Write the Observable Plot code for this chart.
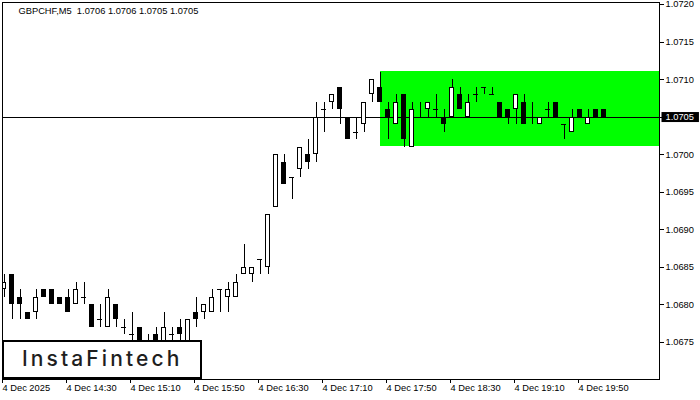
<!DOCTYPE html>
<html><head><meta charset="utf-8">
<script src="https://cdn.jsdelivr.net/npm/d3@7"></script>
<script src="https://cdn.jsdelivr.net/npm/@observablehq/plot@0.6"></script>
<style>
html,body{margin:0;padding:0;background:#fff;}
#chart{position:relative;width:700px;height:400px;overflow:hidden;}
#chart svg text{white-space:pre;}
#logo{position:absolute;left:2px;top:340px;width:200px;height:39px;box-sizing:border-box;border:2px solid #000;background:#fff;}
#logo span{position:absolute;left:18px;top:3px;font-family:Inter,"Open Sans",sans-serif;font-size:21px;font-weight:500;letter-spacing:3.1px;color:#1e1e1e;line-height:28px;}
</style></head><body><div id="chart"></div>
<script>
const symbol = "GBPCHF";
const timeframe = "M5";
const open  = [1.0682,1.0684,1.0681,1.0679,1.0679,1.0682,1.0682,1.0681,1.0681,1.0680,1.0681,1.0680,1.0678,1.0677,1.0680,1.0677,1.0676,1.0677,1.0675,1.0676,1.0674,1.0676,1.0677,1.0675,1.0679,1.0679,1.0679,1.0682,1.0681,1.0681,1.0684,1.0684,1.0686,1.0685,1.0693,1.0699,1.0697,1.0698,1.0700,1.0700,1.0706,1.0707,1.0709,1.0705,1.0703,1.0704,1.0708,1.0709,1.0706,1.0704,1.0708,1.0701,1.0705,1.0706,1.0706,1.0705,1.0705,1.0708,1.0705,1.0708,1.0709,1.0708,1.0707,1.0706,1.0706,1.0707,1.0705,1.0704,1.0706,1.0707,1.0704,1.0703,1.0706,1.0704,1.0706,1.0706];
const high  = [1.0684,1.0684,1.0682,1.0679,1.0682,1.0682,1.0682,1.0681,1.0682,1.0683,1.0683,1.0680,1.0680,1.0682,1.0680,1.0678,1.0679,1.0677,1.0676,1.0677,1.0679,1.0677,1.0678,1.0678,1.0681,1.0680,1.0682,1.0682,1.0683,1.0684,1.0688,1.0685,1.0686,1.0692,1.0700,1.0700,1.0697,1.0701,1.0702,1.0707,1.0707,1.0708,1.0709,1.0705,1.0705,1.0707,1.0710,1.0711,1.0707,1.0708,1.0708,1.0707,1.0707,1.0707,1.0708,1.0706,1.0710,1.0709,1.0708,1.0709,1.0709,1.0709,1.0707,1.0706,1.0708,1.0708,1.0707,1.0705,1.0707,1.0707,1.0704,1.0706,1.0706,1.0706,1.0706,1.0706];
const low   = [1.0681,1.0678,1.0678,1.0678,1.0678,1.0681,1.0680,1.0680,1.0679,1.0680,1.0680,1.0677,1.0677,1.0677,1.0677,1.0676,1.0674,1.0673,1.0674,1.0673,1.0673,1.0675,1.0675,1.0674,1.0677,1.0678,1.0679,1.0679,1.0679,1.0681,1.0684,1.0683,1.0684,1.0684,1.0693,1.0696,1.0694,1.0697,1.0698,1.0699,1.0703,1.0706,1.0704,1.0702,1.0702,1.0703,1.0707,1.0707,1.0702,1.0704,1.0701,1.0701,1.0705,1.0705,1.0705,1.0703,1.0705,1.0706,1.0705,1.0707,1.0708,1.0708,1.0705,1.0704,1.0704,1.0704,1.0704,1.0704,1.0705,1.0705,1.0702,1.0703,1.0705,1.0704,1.0705,1.0705];
const close = [1.0683,1.0680,1.0680,1.0678,1.0681,1.0681,1.0680,1.0680,1.0679,1.0682,1.0681,1.0677,1.0678,1.0681,1.0678,1.0677,1.0676,1.0674,1.0675,1.0674,1.0677,1.0676,1.0676,1.0678,1.0678,1.0680,1.0681,1.0682,1.0682,1.0683,1.0685,1.0685,1.0686,1.0692,1.0700,1.0696,1.0697,1.0701,1.0699,1.0705,1.0706,1.0708,1.0706,1.0702,1.0703,1.0707,1.0710,1.0707,1.0705,1.0707,1.0702,1.0706,1.0705,1.0707,1.0706,1.0704,1.0709,1.0706,1.0707,1.0708,1.0709,1.0708,1.0705,1.0705,1.0708,1.0704,1.0705,1.0705,1.0706,1.0705,1.0704,1.0705,1.0705,1.0705,1.0705,1.0705];
const timeTickIndex = [0, 8, 16, 24, 32, 40, 48, 56, 64, 72];
const timeTickLabels = ["4 Dec 2025","4 Dec 14:30","4 Dec 15:10","4 Dec 15:50","4 Dec 16:30","4 Dec 17:10","4 Dec 17:50","4 Dec 18:30","4 Dec 19:10","4 Dec 19:50"];
const priceTicks = [1.0675,1.0680,1.0685,1.0690,1.0695,1.0700,1.0705,1.0710,1.0715,1.0720];
const currentPrice = 1.0705;
const zoneStartIndex = 47;
const zoneTop = 1.07111;
const zoneBottom = 1.07011;
const brand = "InstaFintech";

const xDomain = [-0.1875, 81.9375];
const yDomain = [1.0670027, 1.0720267];
const half = 0.3125;

const bars = open.map((o, i) => ({i, o, h: high[i], l: low[i], c: close[i]}));
const up = bars.filter(d => d.c > d.o);
const down = bars.filter(d => d.c < d.o);
const flat = bars.filter(d => d.c === d.o);
const last = bars[bars.length - 1];
const f4 = v => v.toFixed(4);
const title = `${symbol},${timeframe}  ${f4(last.o)} ${f4(last.h)} ${f4(last.l)} ${f4(last.c)}`;
const zone = [{x1: zoneStartIndex, x2: xDomain[1], y1: zoneBottom, y2: zoneTop}];
const crisp = {shapeRendering: "crispEdges"};

const chart = Plot.plot({
  width: 700, height: 400,
  marginLeft: 2, marginRight: 41, marginTop: 2, marginBottom: 21,
  x: {domain: xDomain},
  y: {domain: yDomain},
  style: {fontFamily: "'Liberation Sans', Arial, sans-serif", fontSize: "9.3px", color: "black", background: "white"},
  marks: [
    Plot.rect(zone, {x1: "x1", x2: "x2", y1: "y1", y2: "y2", fill: "#00ff00", ...crisp}),
    Plot.ruleY([currentPrice], {stroke: "black", ...crisp}),
    Plot.ruleX(bars, {x: "i", y1: "l", y2: "h", stroke: "black", clip: true, ...crisp}),
    Plot.rect(down, {x1: d => d.i - half, x2: d => d.i + half, y1: "o", y2: "c", fill: "black", clip: true, ...crisp}),
    Plot.rect(up, {x1: d => d.i - half, x2: d => d.i + half, y1: "o", y2: "c", fill: "white", stroke: "black", strokeWidth: 1, inset: 0.5, clip: true, ...crisp}),
    Plot.ruleY(flat, {x1: d => d.i - half, x2: d => d.i + half, y: "o", stroke: "black", clip: true, ...crisp}),
    Plot.frame({stroke: "black", ...crisp}),
    Plot.axisY(priceTicks, {anchor: "right", tickSize: 4, tickPadding: 2, tickFormat: f4, label: null, fill: "black", ...crisp}),
    Plot.axisX(timeTickIndex, {anchor: "bottom", tickSize: 4, tickPadding: 1, textAnchor: "start", dx: -1.5, label: null, fill: "black",
      tickFormat: d => timeTickLabels[timeTickIndex.indexOf(d)], ...crisp}),
    Plot.text([title], {frameAnchor: "top-left", dx: 16, dy: 5, lineAnchor: "top", textAnchor: "start", text: d => d, fill: "black"}),
    Plot.text([currentPrice], {y: d => d, text: f4, frameAnchor: "right", dx: 6, textAnchor: "start", fill: "white", className: "cur-price"})
  ]
});
document.getElementById("chart").appendChild(chart);

// black background box behind current price label, sized from the label itself
const t = chart.querySelector(".cur-price text");
if (t) {
  const bb = t.getBBox();
  const r = document.createElementNS("http://www.w3.org/2000/svg", "rect");
  r.setAttribute("x", bb.x - 4);
  r.setAttribute("y", bb.y);
  r.setAttribute("width", bb.width + 9);
  r.setAttribute("height", bb.height);
  r.setAttribute("fill", "black");
  const tr = t.getAttribute("transform");
  if (tr) r.setAttribute("transform", tr);
  t.parentNode.insertBefore(r, t);
}

const logo = document.createElement("div");
logo.id = "logo";
const s = document.createElement("span");
s.textContent = brand;
logo.appendChild(s);
document.getElementById("chart").appendChild(logo);
</script></body></html>
